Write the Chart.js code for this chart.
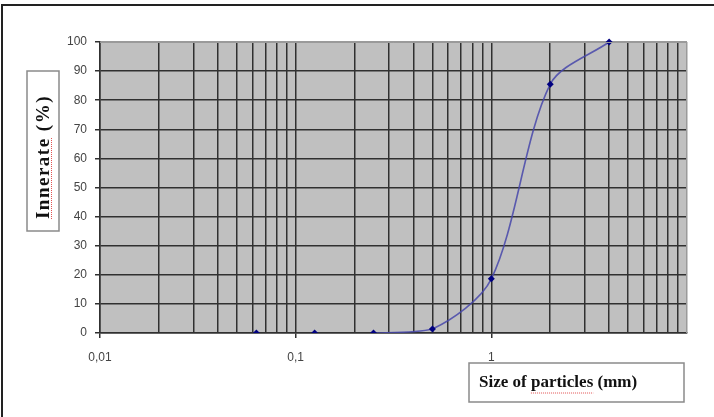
<!DOCTYPE html>
<html>
<head>
<meta charset="utf-8">
<script src="https://cdn.jsdelivr.net/npm/chart.js@4/dist/chart.umd.min.js"></script>
<style>
    html, body { margin: 0; padding: 0; background: #fff; }
    canvas { display: block; }
</style>
</head>
<body>
<canvas id="grading" width="714" height="417"></canvas>
<script>
// Sieve sizes (mm) and passing percentages
const sizes = [0.063, 0.125, 0.25, 0.5, 1, 2, 4];
const passing = [0, 0, 0, 1.4, 18.6, 85.5, 100];

// Axis labels
const xDecades = [0.01, 0.1, 1];
const xDecadeLabels = ['0,01', '0,1', '1'];
const yTitle = 'Innerate (%)';
const xTitle = 'Size of particles (mm)';

// log gridlines 1..9 per decade, plus the end at 10
const xGrid = [];
xDecades.forEach(d => {
    for (let k = 1; k <= 9; k++) xGrid.push(+(d * k).toPrecision(3));
});
xGrid.push(10);

const isDecade = v => xDecades.some(d => Math.abs(d - v) < d * 1e-6);

const frameAndTitles = {
    id: 'frameAndTitles',
    beforeDraw(chart) {
        const { ctx, chartArea: a } = chart;
        ctx.save();
        ctx.fillStyle = '#c0c0c0';
        ctx.fillRect(a.left, a.top, a.right - a.left, a.bottom - a.top);
        ctx.restore();
    },
    afterDraw(chart) {
        const { ctx, chartArea: a } = chart;
        ctx.save();

        // outer frame (top and left only)
        ctx.strokeStyle = '#222';
        ctx.lineWidth = 2;
        ctx.beginPath();
        ctx.moveTo(2, 417);
        ctx.lineTo(2, 5);
        ctx.lineTo(714, 5);
        ctx.stroke();

        // light plot border on top and right
        ctx.strokeStyle = '#9a9a9a';
        ctx.lineWidth = 1;
        ctx.beginPath();
        ctx.moveTo(a.left, a.top + 0.5);
        ctx.lineTo(a.right - 0.5, a.top + 0.5);
        ctx.lineTo(a.right - 0.5, a.bottom);
        ctx.stroke();

        // y title box
        ctx.fillStyle = '#fff';
        ctx.strokeStyle = '#8a8a8a';
        ctx.lineWidth = 1.5;
        ctx.fillRect(27, 71, 32, 160);
        ctx.strokeRect(27, 71, 32, 160);

        ctx.font = 'bold 19px "Liberation Serif", "Times New Roman", serif';
        ctx.fillStyle = '#111';
        ctx.save();
        ctx.translate(44, 157);
        ctx.rotate(-Math.PI / 2);
        ctx.letterSpacing = '1.5px';
        ctx.textAlign = 'center';
        ctx.textBaseline = 'middle';
        ctx.fillText(yTitle, 0, 0);
        const fullW = ctx.measureText(yTitle).width;
        const wordW = ctx.measureText('Innerate').width;
        ctx.strokeStyle = '#e05050';
        ctx.lineWidth = 1;
        ctx.setLineDash([1, 1]);
        ctx.beginPath();
        ctx.moveTo(-fullW / 2, 7.5);
        ctx.lineTo(-fullW / 2 + wordW, 7.5);
        ctx.stroke();
        ctx.restore();

        // x title box
        ctx.font = 'bold 17px "Liberation Serif", "Times New Roman", serif';
        ctx.fillStyle = '#fff';
        ctx.strokeStyle = '#8a8a8a';
        ctx.lineWidth = 1.5;
        ctx.fillRect(469, 363, 215, 39);
        ctx.strokeRect(469, 363, 215, 39);

        ctx.fillStyle = '#111';
        ctx.textAlign = 'left';
        ctx.textBaseline = 'middle';
        ctx.fillText(xTitle, 479, 383);
        const pre = ctx.measureText('Size of ').width;
        const w = ctx.measureText('particles').width;
        ctx.strokeStyle = '#e05050';
        ctx.lineWidth = 1;
        ctx.setLineDash([1, 1]);
        ctx.beginPath();
        ctx.moveTo(479 + pre, 393);
        ctx.lineTo(479 + pre + w, 393);
        ctx.stroke();

        ctx.restore();
    }
};

new Chart(document.getElementById('grading'), {
    type: 'line',
    data: {
        datasets: [{
            data: sizes.map((s, i) => ({ x: s, y: passing[i] })),
            borderColor: 'rgba(70, 70, 170, 0.85)',
            borderWidth: 1.6,
            tension: 0.3,
            pointStyle: 'rectRot',
            pointRadius: 3.5,
            pointBackgroundColor: '#000080',
            pointBorderColor: '#000080',
            pointBorderWidth: 0,
            segment: {
                borderColor: c => (c.p0.parsed.y === 0 && c.p1.parsed.y === 0) ? 'rgba(0,0,0,0)' : undefined
            },
            clip: { left: 0, right: 0, top: 6, bottom: 0 }
        }]
    },
    options: {
        responsive: false,
        animation: false,
        events: [],
        layout: { padding: { left: 0, right: 27, top: 42, bottom: 0 } },
        plugins: {
            legend: { display: false },
            tooltip: { enabled: false }
        },
        scales: {
            x: {
                type: 'logarithmic',
                min: 0.01,
                max: 10,
                afterBuildTicks: s => { s.ticks = xGrid.map(v => ({ value: v })); },
                afterFit: s => { s.height = 84; },
                ticks: {
                    autoSkip: false,
                    maxRotation: 0,
                    padding: 12,
                    color: '#444',
                    font: { family: '"Liberation Sans", Arial, sans-serif', size: 12 },
                    callback: v => {
                        const i = xDecades.findIndex(d => Math.abs(d - v) < d * 1e-6);
                        return i >= 0 ? xDecadeLabels[i] : '';
                    }
                },
                grid: {
                    color: c => (c.tick && c.tick.value === 10) ? '#9a9a9a' : '#303030',
                    lineWidth: 1.5,
                    tickLength: 5,
                    tickColor: c => (c.tick && isDecade(c.tick.value)) ? '#303030' : 'rgba(0,0,0,0)',
                    tickWidth: 1.5
                },
                border: { color: '#303030', width: 1.5 }
            },
            y: {
                min: 0,
                max: 100,
                afterFit: s => { s.width = 100; },
                ticks: {
                    stepSize: 10,
                    padding: 8,
                    color: '#444',
                    font: { family: '"Liberation Sans", Arial, sans-serif', size: 12 }
                },
                grid: {
                    color: c => (c.tick && c.tick.value === 100) ? '#9a9a9a' : '#303030',
                    lineWidth: 1.5,
                    tickLength: 5,
                    tickColor: '#303030'
                },
                border: { color: '#303030', width: 1.5 }
            }
        }
    },
    plugins: [frameAndTitles]
});
</script>
</body>
</html>
